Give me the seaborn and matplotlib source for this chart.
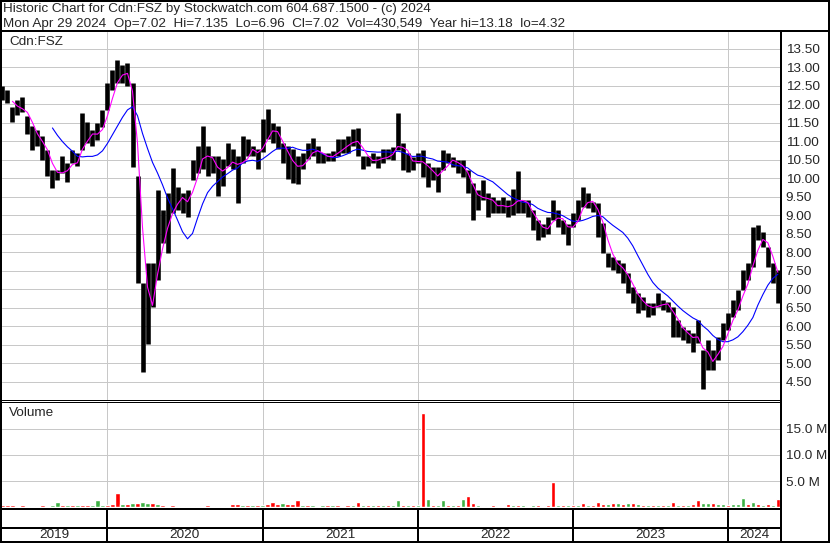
import pandas as pd
import seaborn as sns
import matplotlib.pyplot as plt
from matplotlib.lines import Line2D


# ==================== Data ====================
# one bar per ~8 trading days, Apr 2019 -> Apr 2024

bar_high = [
    12.48, 12.39, 11.93, 12.10, 12.20, 11.67, 11.40, 11.30, 11.13, 10.77,
    10.23, 10.23, 10.59, 10.41, 10.77, 10.68, 11.76, 11.53, 11.30, 11.48,
    11.84, 12.56, 12.93, 13.20, 13.06, 13.11, 12.57, 10.05, 7.16, 7.70,
    7.70, 9.68, 9.14, 9.59, 10.27, 9.77, 9.59, 9.68, 10.50, 10.87,
    11.41, 10.87, 10.60, 10.60, 10.51, 10.96, 10.78, 10.60, 11.14, 11.05,
    10.87, 10.78, 11.60, 11.86, 11.50, 11.41, 10.96, 10.87, 10.78, 10.60,
    10.69, 10.96, 11.10, 10.87, 10.69, 10.69, 10.74, 11.05, 11.05, 11.14,
    11.32, 11.37, 10.60, 10.60, 10.69, 10.60, 10.78, 10.78, 10.85, 11.75,
    10.94, 10.67, 10.58, 10.67, 10.76, 10.40, 10.31, 10.31, 10.76, 10.67,
    10.58, 10.49, 10.49, 10.22, 9.86, 9.68, 9.95, 9.59, 9.50, 9.41,
    9.50, 9.41, 9.70, 10.20, 9.41, 9.41, 9.14, 8.86, 8.77, 8.95,
    9.41, 9.14, 8.86, 8.77, 9.05, 9.41, 9.77, 9.59, 9.37, 9.32,
    8.78, 7.97, 7.88, 7.79, 7.70, 7.43, 7.07, 6.89, 6.80, 6.62,
    6.62, 6.89, 6.71, 6.67, 6.53, 6.17, 5.99, 5.90, 5.81, 6.17,
    5.36, 5.63, 5.36, 5.72, 6.08, 6.35, 6.71, 6.98, 7.52, 7.70,
    8.69, 8.74, 8.56, 8.15, 7.70, 7.52,
]

bar_low = [
    12.10, 12.04, 11.53, 11.70, 11.80, 11.20, 10.77, 10.86, 10.50, 10.05,
    9.73, 9.95, 10.14, 9.91, 10.41, 10.32, 10.77, 10.95, 10.86, 11.03,
    11.39, 11.84, 12.39, 12.57, 12.57, 12.48, 10.30, 7.16, 4.77, 5.53,
    6.53, 7.25, 8.24, 7.97, 9.05, 9.14, 9.05, 8.96, 9.95, 10.15,
    10.24, 10.06, 10.15, 9.52, 9.79, 10.33, 10.24, 9.34, 10.42, 10.60,
    10.60, 10.24, 10.70, 11.05, 10.96, 10.78, 10.42, 9.97, 9.88, 9.84,
    10.24, 10.51, 10.60, 10.42, 10.42, 10.47, 10.47, 10.60, 10.69, 10.69,
    10.87, 10.60, 10.24, 10.33, 10.42, 10.29, 10.42, 10.51, 10.49, 10.76,
    10.22, 10.17, 10.22, 10.40, 10.04, 9.77, 9.95, 9.63, 10.22, 10.40,
    10.31, 10.13, 10.04, 9.59, 8.86, 9.14, 9.41, 8.95, 9.05, 9.05,
    9.05, 8.95, 9.00, 9.05, 9.05, 8.95, 8.59, 8.32, 8.41, 8.50,
    8.86, 8.68, 8.50, 8.19, 8.68, 8.86, 9.23, 9.19, 9.10, 8.42,
    7.97, 7.61, 7.52, 7.43, 7.16, 6.89, 6.62, 6.35, 6.44, 6.26,
    6.31, 6.53, 6.44, 6.40, 5.72, 5.72, 5.63, 5.54, 5.32, 5.54,
    4.32, 4.82, 4.82, 5.09, 5.63, 5.90, 6.26, 6.44, 6.98, 7.25,
    7.61, 8.33, 8.15, 7.61, 7.16, 6.62,
]

# volume in millions of shares
volume_m = [
    0.35, 0.40, 0.45, 0.30, 0.35, 0.30, 0.30, 0.25, 0.35, 0.30,
    0.40, 0.95, 0.40, 0.35, 0.45, 0.40, 0.50, 0.40, 0.45, 1.30,
    0.50, 0.45, 0.60, 2.70, 0.70, 0.60, 0.90, 0.80, 0.95, 0.90,
    0.80, 0.70, 0.35, 0.30, 0.35, 0.30, 0.25, 0.30, 0.30, 0.25,
    0.30, 0.35, 0.30, 0.30, 0.25, 0.30, 0.60, 0.55, 0.50, 0.40,
    0.35, 0.40, 0.45, 0.70, 1.00, 0.60, 0.80, 0.70, 0.60, 1.30,
    0.40, 0.35, 0.40, 0.30, 0.45, 0.40, 0.35, 0.40, 0.30, 0.35,
    0.40, 1.00, 0.50, 0.45, 0.40, 0.35, 0.50, 0.45, 0.50, 1.30,
    0.50, 0.45, 0.40, 0.50, 18.00, 1.60, 0.45, 0.40, 1.30, 0.50,
    0.40, 0.45, 1.50, 2.20, 0.80, 0.35, 0.30, 0.30, 0.35, 0.30,
    0.25, 0.60, 0.35, 0.40, 0.35, 0.30, 0.40, 0.35, 0.30, 0.40,
    4.90, 0.40, 0.45, 0.40, 0.35, 0.40, 0.80, 0.50, 0.45, 1.10,
    0.70, 0.60, 0.80, 0.90, 0.70, 0.75, 0.80, 0.60, 0.40, 0.35,
    0.45, 0.40, 0.35, 0.40, 1.10, 0.50, 0.45, 0.50, 0.60, 1.40,
    0.80, 0.75, 0.80, 0.70, 0.60, 0.50, 0.55, 0.60, 1.80, 0.60,
    1.10, 0.60, 0.50, 0.55, 0.50, 1.60,
]

# u = up (green volume bar), d = down (red volume bar)
volume_dir = (
    "dddudduudu" "uudududduu" "udddududuu" "dudududdud" "uduududdud"
    "ududdduddd" "ududududud" "ududududuu" "dudududuud" "ududdududu"
    "ddudududud" "dududududd" "dududududu" "dududududd" "uuduuduuud"
    "ududud"
)

years = [2019, 2020, 2021, 2022, 2023, 2024]
price_ticks = [4.5, 5.0, 5.5, 6.0, 6.5, 7.0, 7.5, 8.0, 8.5, 9.0, 9.5,
               10.0, 10.5, 11.0, 11.5, 12.0, 12.5, 13.0, 13.5]
volume_ticks = [5, 10, 15]

title_1 = "Historic Chart for Cdn:FSZ by Stockwatch.com 604.687.1500 - (c) 2024"
title_2 = ("Mon Apr 29 2024  Op=7.02  Hi=7.135  Lo=6.96  Cl=7.02  "
           "Vol=430,549  Year hi=13.18  lo=4.32")

n = len(bar_high)
assert len(bar_low) == n and len(volume_m) == n and len(volume_dir) == n

# ==================== Frame ====================

df = pd.DataFrame({
    "date": pd.date_range("2019-04-30", "2024-04-27", periods=n),
    "high": bar_high,
    "low": bar_low,
    "volume": volume_m,
    "dir": list(volume_dir),
})
df["mid"] = (df["high"] + df["low"]) / 2
df["ma_short"] = df["mid"].rolling(3).mean()
df["ma_long"] = df["mid"].rolling(11).mean()

# ==================== Plot ====================

sns.set_style("white")
plt.rcParams["font.family"] = ["Liberation Sans", "DejaVu Sans"]
FS = 9.7

W, H = 830, 543
fig = plt.figure(figsize=(W / 100, H / 100), dpi=100)


def box(x0, y_top, x1, y_bottom):
    return [x0 / W, 1 - y_bottom / H, (x1 - x0) / W, (y_bottom - y_top) / H]


def hline(y, x0, x1, lw=2):
    fig.add_artist(Line2D([x0 / W, x1 / W], [1 - y / H, 1 - y / H],
                          transform=fig.transFigure, color="black", lw=lw * 0.72))


def vline(x, y0, y1, lw=2):
    fig.add_artist(Line2D([x / W, x / W], [1 - y0 / H, 1 - y1 / H],
                          transform=fig.transFigure, color="black", lw=lw * 0.72))


x_lim = (pd.Timestamp("2019-04-29"), pd.Timestamp("2024-05-02"))
year_starts = [pd.Timestamp(f"{y}-01-01") for y in years[1:]]
grid_kw = dict(color="#c8c8c8", lw=0.72, zorder=0)

# ---------- Price panel
ax = fig.add_axes(box(2, 32, 780, 400))
for p in price_ticks:
    ax.axhline(p, **grid_kw)
for d in year_starts:
    ax.axvline(d, **grid_kw)

ax.vlines(df["date"], df["low"], df["high"], color="black", lw=3.3, zorder=2)
sns.lineplot(data=df, x="date", y="ma_long", color="#0000ff", lw=0.8, ax=ax, zorder=3)
sns.lineplot(data=df, x="date", y="ma_short", color="#ff00ff", lw=0.8, ax=ax, zorder=4)

ax.set_xlim(x_lim)
ax.set_ylim(4.01, 13.95)
ax.yaxis.tick_right()
ax.set_yticks(price_ticks)
ax.set_yticklabels([f"{p:.2f}" for p in price_ticks])
ax.tick_params(axis="y", length=0, pad=4, labelsize=FS)
ax.set_xticks([])
ax.set_xlabel("")
ax.set_ylabel("")
for s in ax.spines.values():
    s.set_visible(False)
ax.text(0.009, 0.99, "Cdn:FSZ", transform=ax.transAxes, fontsize=FS, va="top")

# ---------- Volume panel
axv = fig.add_axes(box(2, 402, 780, 507.3))
for v in volume_ticks:
    axv.axhline(v, **grid_kw)
for d in year_starts:
    axv.axvline(d, **grid_kw)
colors = ["#3cb043" if c == "u" else "#ff0000" for c in df["dir"]]
axv.bar(df["date"], df["volume"], width=10, color=colors, zorder=2)
axv.set_xlim(x_lim)
axv.set_ylim(0, 20.1)
axv.yaxis.tick_right()
axv.set_yticks(volume_ticks)
axv.set_yticklabels([f"{v:.1f} M" for v in volume_ticks])
axv.tick_params(axis="y", length=0, pad=4, labelsize=FS)
axv.set_xticks([])
for s in axv.spines.values():
    s.set_visible(False)
axv.text(0.009, 0.95, "Volume", transform=axv.transAxes, fontsize=FS, va="top")

# ---------- Year strip
axy = fig.add_axes(box(2, 509, 780, 541))
axy.set_xlim(x_lim)
axy.set_ylim(0, 1)
axy.axis("off")
for d in year_starts:
    axy.axvline(d, color="black", lw=1.44)
for y in years:
    a = max(pd.Timestamp(f"{y}-01-01"), x_lim[0])
    b = min(pd.Timestamp(f"{y + 1}-01-01"), x_lim[1])
    axy.text(a + (b - a) / 2, 0.2, str(y), ha="center", va="center", fontsize=FS)

# ---------- Frame lines
hline(0.5, 0, W)
hline(31, 0, W)
hline(542, 0, W)
vline(1, 0, H)
vline(829, 0, H)
vline(781, 31, H)
hline(400, 0, 781, lw=1)
hline(402, 0, 781, lw=1)
hline(508.6, 0, 781)
hline(527.5, 0, 781)

fig.text(3 / W, 1 - 12 / H, title_1, fontsize=FS, va="baseline")
fig.text(3 / W, 1 - 27 / H, title_2, fontsize=FS, va="baseline")

fig.savefig("out.png", dpi=100)
